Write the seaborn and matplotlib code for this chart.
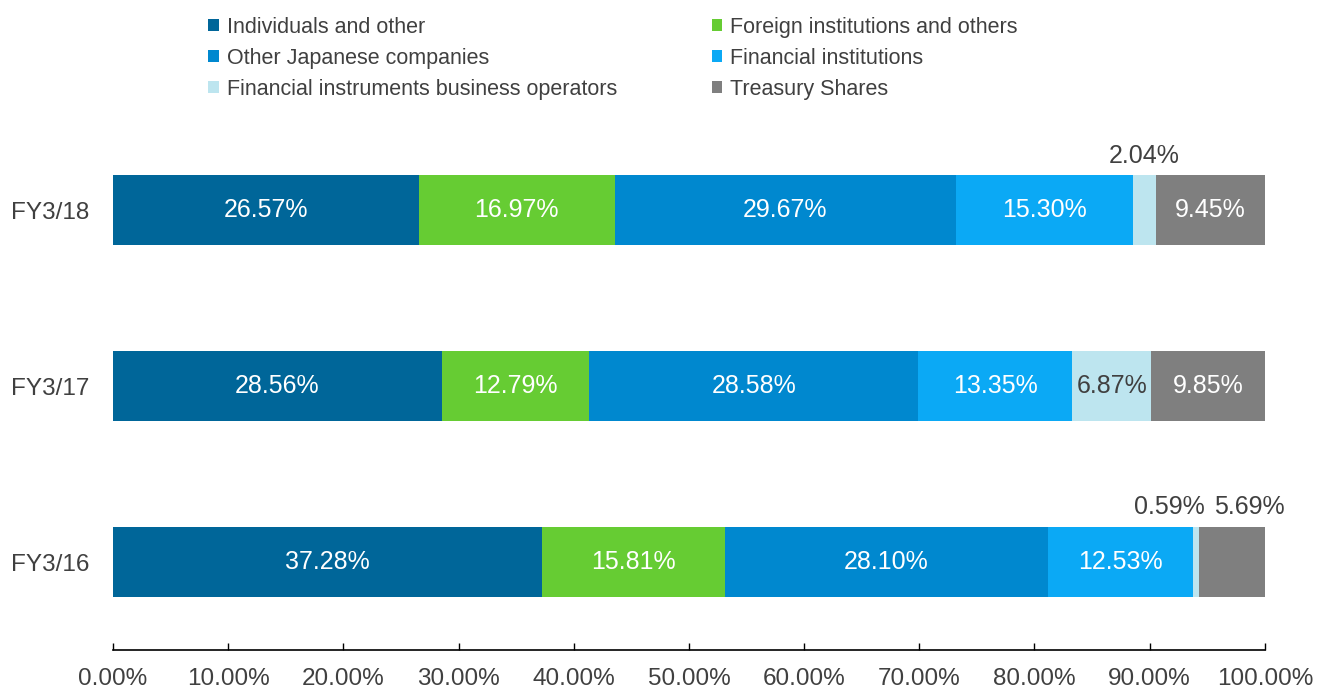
import numpy as np
import pandas as pd
import seaborn as sns
import matplotlib.pyplot as plt
from matplotlib.patches import Patch

years = ['FY3/18', 'FY3/17', 'FY3/16']
categories = ['Individuals and other', 'Foreign institutions and others',
              'Other Japanese companies', 'Financial institutions',
              'Financial instruments business operators', 'Treasury Shares']
individuals = [26.57, 28.56, 37.28]
foreign = [16.97, 12.79, 15.81]
japanese_cos = [29.67, 28.58, 28.10]
fin_institutions = [15.30, 13.35, 12.53]
fin_instruments = [2.04, 6.87, 0.59]
treasury = [9.45, 9.85, 5.69]

colors = ['#006699', '#66CC33', '#0088CF', '#0BA9F5', '#BDE5EF', '#7F7F7F']
text_grey = '#404040'

df = pd.DataFrame({'year': years,
                   categories[0]: individuals, categories[1]: foreign,
                   categories[2]: japanese_cos, categories[3]: fin_institutions,
                   categories[4]: fin_instruments, categories[5]: treasury})
cum = df[categories].cumsum(axis=1)
cum['year'] = df['year']

sns.set_style('white')
plt.rcParams['font.family'] = ['Liberation Sans', 'DejaVu Sans']

fig = plt.figure(figsize=(13.18, 6.91), dpi=100)
ax = fig.add_axes([0.0857, 0.0593, 0.874, 0.764])

# stacked bars: draw the cumulative totals, largest first
for cat, col in reversed(list(zip(categories, colors))):
    sns.barplot(data=cum, x=cat, y='year', order=years, color=col,
                width=0.4, orient='h', saturation=1, linewidth=0, ax=ax)

# small segments get their labels above the bar, nudged sideways
outside_nudge = {('FY3/18', categories[4]): 0.0,
                 ('FY3/16', categories[4]): -2.3,
                 ('FY3/16', categories[5]): 1.5}

for i, yr in enumerate(years):
    left = 0
    for cat in categories:
        v = df.loc[i, cat]
        mid = left + v / 2
        label = f'{v:.2f}%'
        if (yr, cat) in outside_nudge:
            ax.text(mid + outside_nudge[(yr, cat)], i - 0.31, label,
                    ha='center', va='center', fontsize=18, color=text_grey)
        else:
            tc = text_grey if cat == categories[4] else 'white'
            ax.text(mid, i, label, ha='center', va='center',
                    fontsize=18, color=tc)
        left += v

ax.set_xlim(0, 100)
ax.set_ylim(2.5, -0.5)
ax.set_xticks(np.arange(0, 101, 10))
ax.set_xticklabels([f'{t:.2f}%' for t in np.arange(0, 101, 10)])
ax.set_xlabel('')
ax.set_ylabel('')
for s in ['top', 'right', 'left']:
    ax.spines[s].set_visible(False)
ax.spines['bottom'].set_color('black')
ax.spines['bottom'].set_linewidth(1.2)
ax.tick_params(axis='x', direction='in', length=5, width=1, color='black',
               labelsize=17.5, labelcolor=text_grey, pad=13, bottom=True)
ax.tick_params(axis='y', length=0, labelsize=17.5, labelcolor=text_grey, pad=17)

legend_order = [0, 2, 4, 1, 3, 5]
handles = [Patch(facecolor=colors[k], edgecolor='none', label=categories[k])
           for k in legend_order]
fig.legend(handles=handles, loc='upper left', bbox_to_anchor=(0.158, 0.976),
           ncol=2, frameon=False, fontsize=15.5, labelcolor=text_grey,
           handlelength=0.5, handleheight=0.5, handletextpad=0.35,
           columnspacing=4.4, labelspacing=0.47, borderpad=0, borderaxespad=0)

fig.savefig('out.png', dpi=100)
